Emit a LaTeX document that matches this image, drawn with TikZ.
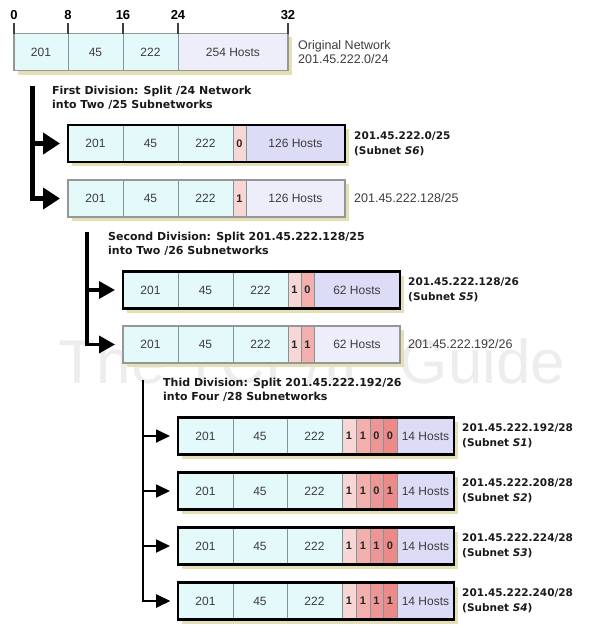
\documentclass[tikz,border=0pt]{standalone}
\usepackage{fontspec}
\setmainfont{Liberation Sans}
\newfontfamily\lblfont{DejaVu Sans}
\usetikzlibrary{arrows.meta}
\definecolor{netc}{RGB}{228,249,250}
\definecolor{hostsel}{RGB}{220,220,247}
\definecolor{hostpl}{RGB}{238,238,251}
\definecolor{bitA}{RGB}{249,214,214}
\definecolor{bitB}{RGB}{243,174,174}
\definecolor{bitC}{RGB}{238,150,150}
\definecolor{bitD}{RGB}{236,138,138}
\definecolor{divc}{RGB}{125,150,150}
\definecolor{bordc}{RGB}{150,150,150}
\definecolor{shadc}{RGB}{228,223,180}
\definecolor{txtc}{RGB}{60,60,60}
\definecolor{wmarkc}{RGB}{237,237,237}
\begin{document}
\begin{tikzpicture}[x=1pt,y=-1pt,
    cell/.style={draw=divc,line width=0.6pt,inner sep=0pt,outer sep=0pt,minimum height=37,text=txtc,font=\fontsize{12}{14}\selectfont},
    bitcell/.style={cell,text=black!85,font=\bfseries\fontsize{11}{13}\selectfont},
    selrow/.style={draw=black,line width=2.4pt},
    plainrow/.style={draw=bordc,line width=1.2pt},
    shad/.style={fill=shadc},
    lvlone/.style={line width=5pt,-{Triangle[length=17pt,width=21pt]},shorten >=8pt},
    lvltwo/.style={line width=3.5pt,-{Triangle[length=16pt,width=17pt]},shorten >=8pt},
    lvlthree/.style={line width=1.8pt,-{Triangle[length=14pt,width=13pt]},shorten >=8pt},
    divlbl/.style={anchor=north west,align=left,inner sep=0pt,text=black!90,font=\lblfont\bfseries\fontsize{11}{13.5}\selectfont},
    sellbl/.style={anchor=west,align=left,inner sep=0pt,text=black!90,font=\lblfont\bfseries\fontsize{10.5}{15}\selectfont},
    plainlbl/.style={anchor=west,align=left,inner sep=0pt,text=txtc,font=\fontsize{12.5}{14}\selectfont}]
  \useasboundingbox (0,0) rectangle (591,625);
  \node[text=wmarkc,font=\fontsize{62}{62}\selectfont] (wm) at (312,361) {The TCP/IP Guide};

  % original network
  \fill[shad] (18,37) rectangle (292,75);
  \foreach \nm/\xx/\ww/\tx in {a/14/54/201,b/68/55/45,c/123/55/222}
    \node[cell,fill=netc,minimum width=\ww] (r0-\nm) at (\xx+\ww/2,52) {\tx};
  \node[cell,fill=hostpl,minimum width=110] (r0-h) at (233,52) {254 Hosts};
  \draw[plainrow] (r0-a.north west) rectangle (r0-h.south east);
  \node[plainlbl] (l0) at (298,52) {Original Network\\201.45.222.0/24};
  \foreach \b/\xx in {0/14,8/68,16/123,24/178,32/288}{
    \node[font=\bfseries\fontsize{13}{15}\selectfont] (tk\b) at (\xx,15) {\b};
    \draw[line width=1.2pt,black!75] (tk\b.south) -- (tk\b.south |- r0-a.north);
  }

  % first division
  \coordinate (d1) at (32,86);
  \node[divlbl] (t1) at (52,86) {First Division: Split /24 Network\\into Two /25 Subnetworks};
  \foreach \rw/\yy/\bp/\sty/\hc in {1/143.5/0/selrow/hostsel,2/198.5/1/plainrow/hostpl}{
    \fill[shad] (72,\yy-14.5) rectangle (349,\yy+22.5);
    \foreach \nm/\xx/\ww/\tx in {a/68/55/201,b/123/55/45,c/178/55/222}
      \node[cell,fill=netc,minimum width=\ww] (r\rw-\nm) at (\xx+\ww/2,\yy) {\tx};
    \node[bitcell,fill=bitA,minimum width=13] (r\rw-p) at (239.5,\yy) {\bp};
    \node[cell,fill=\hc,minimum width=99] (r\rw-h) at (295.5,\yy) {126 Hosts};
    \draw[\sty] (r\rw-a.north west) rectangle (r\rw-h.south east);
  }
  \draw[lvlone] (d1) |- (r2-a);
  \draw[lvlone] (d1 |- r1-a) -- (r1-a);
  \node[sellbl] (l1) at (354,143.5) {201.45.222.0/25\\(Subnet \textit{S6})};
  \node[plainlbl] (l2) at (354,198.5) {201.45.222.128/25};

  % second division
  \coordinate (d2) at (87,232);
  \node[divlbl] (t2) at (108,232) {Second Division: Split 201.45.222.128/25\\into Two /26 Subnetworks};
  \foreach \rw/\yy/\bp/\bq/\sty/\hc in {3/290/1/0/selrow/hostsel,4/344.5/1/1/plainrow/hostpl}{
    \fill[shad] (127,\yy-14.5) rectangle (404,\yy+22.5);
    \foreach \nm/\xx/\ww/\tx in {a/123/55/201,b/178/55/45,c/233/55/222}
      \node[cell,fill=netc,minimum width=\ww] (r\rw-\nm) at (\xx+\ww/2,\yy) {\tx};
    \node[bitcell,fill=bitA,minimum width=13] (r\rw-p) at (294.5,\yy) {\bp};
    \node[bitcell,fill=bitB,minimum width=13] (r\rw-q) at (307.5,\yy) {\bq};
    \node[cell,fill=\hc,minimum width=86] (r\rw-h) at (357,\yy) {62 Hosts};
    \draw[\sty] (r\rw-a.north west) rectangle (r\rw-h.south east);
  }
  \draw[lvltwo] (d2) |- (r4-a);
  \draw[lvltwo] (d2 |- r3-a) -- (r3-a);
  \node[sellbl] (l3) at (408,290) {201.45.222.128/26\\(Subnet \textit{S5})};
  \node[plainlbl] (l4) at (408,344.5) {201.45.222.192/26};

  % third division
  \coordinate (d3) at (143,380);
  \node[divlbl] (t3) at (163,378) {Thid Division: Split 201.45.222.192/26\\into Four /28 Subnetworks};
  \foreach \rw/\yy/\bp/\bq/\br/\bs/\ip/\sn in {A/436/1/1/0/0/192/1,B/491/1/1/0/1/208/2,C/546/1/1/1/0/224/3,D/601/1/1/1/1/240/4}{
    \fill[shad] (182,\yy-14.5) rectangle (458,\yy+22.5);
    \foreach \nm/\xx/\ww/\tx in {a/178/55/201,b/233/54/45,c/287/55/222}
      \node[cell,fill=netc,minimum width=\ww] (r\rw-\nm) at (\xx+\ww/2,\yy) {\tx};
    \node[bitcell,fill=bitA,minimum width=14] (r\rw-p) at (349,\yy) {\bp};
    \node[bitcell,fill=bitB,minimum width=14] (r\rw-q) at (363,\yy) {\bq};
    \node[bitcell,fill=bitC,minimum width=13] (r\rw-r) at (376.5,\yy) {\br};
    \node[bitcell,fill=bitD,minimum width=14] (r\rw-s) at (390,\yy) {\bs};
    \node[cell,fill=hostsel,minimum width=57] (r\rw-h) at (425.5,\yy) {14 Hosts};
    \draw[selrow] (r\rw-a.north west) rectangle (r\rw-h.south east);
    \node[sellbl] (l\rw) at (462,\yy) {201.45.222.\ip/28\\(Subnet \textit{S\sn})};
    \draw[lvlthree] (d3 |- r\rw-a) -- (r\rw-a);
  }
  \draw[lvlthree] (d3) |- (rD-a);
\end{tikzpicture}
\end{document}
